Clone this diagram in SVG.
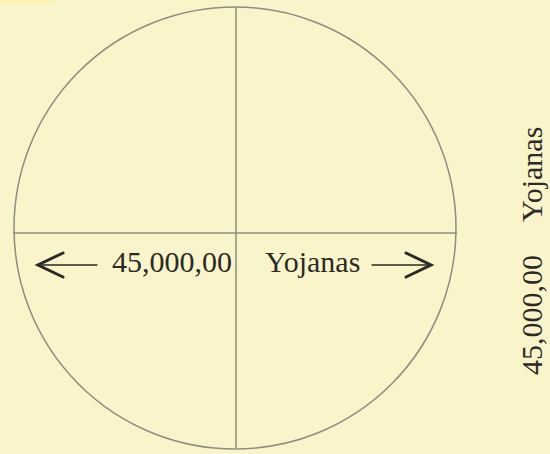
<svg xmlns="http://www.w3.org/2000/svg" width="550" height="454" viewBox="0 0 550 454">
<style>
.ln{stroke:#8e8c80;stroke-width:1.5;fill:none}
.t{font-family:"Liberation Serif","DejaVu Serif",serif;font-size:30px;fill:#2b2a26}
.ar{stroke:#2b2a26;fill:none;stroke-linecap:round;stroke-linejoin:miter}
</style>
<rect width="550" height="454" fill="#faf4cb"/>
<rect width="55" height="4" fill="#fbf1b4"/>
<g id="connectors">
<circle class="ln" cx="235" cy="228" r="221"/>
<line class="ln" x1="236" y1="7" x2="236" y2="448"/>
<line class="ln" x1="13" y1="233" x2="457" y2="233"/>
<line class="ar" stroke-width="1.3" x1="40" y1="265" x2="97" y2="265"/>
<polyline class="ar" stroke-width="3" points="63,253 38,265 63,277"/>
<line class="ar" stroke-width="1.3" x1="372" y1="265" x2="428" y2="265"/>
<polyline class="ar" stroke-width="3" points="406,253 431,265 406,277"/>
</g>
<g id="label-horizontal">
<text class="t" x="112" y="272">45,000,00</text>
<text class="t" x="265" y="272">Yojanas</text>
</g>
<g id="label-vertical">
<text class="t" transform="translate(542,375) rotate(-90)">45,000,00</text>
<text class="t" transform="translate(542,222) rotate(-90)">Yojanas</text>
</g>
</svg>
